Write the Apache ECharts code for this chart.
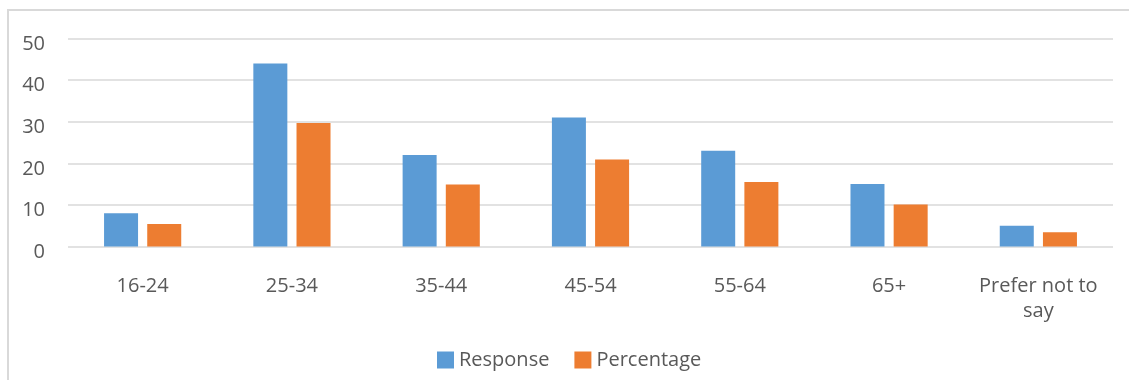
<!DOCTYPE html>
<html>
<head>
<meta charset="utf-8">
<script src="https://cdn.jsdelivr.net/npm/echarts@6/dist/echarts.min.js"></script>
<style>
  html, body { margin: 0; padding: 0; background: #ffffff; }
  #chart { width: 1129px; height: 380px; }
</style>
</head>
<body>
<div id="chart"></div>
<script>
// Age groups of respondents
const categories = ['16-24', '25-34', '35-44', '45-54', '55-64', '65+', 'Prefer not to\nsay'];
// Number of responses per age group
const response = [8, 44, 22, 31, 23, 15, 5];
// Share of all responses, in percent
const percentage = [5.4, 29.7, 14.9, 20.9, 15.5, 10.1, 3.4];
// Value axis range and step
const yMin = 0;
const yMax = 50;
const yStep = 10;

const textColor = '#595959';
const fontFamily = '"Open Sans", "Noto Sans", sans-serif';

const chart = echarts.init(document.getElementById('chart'), null, { renderer: 'canvas' });

chart.setOption({
  animation: false,
  backgroundColor: '#ffffff',
  textStyle: { fontFamily: fontFamily, color: textColor },
  graphic: [{
    type: 'rect',
    shape: { x: 8, y: 10, width: 1300, height: 500 },
    style: { fill: 'none', stroke: '#d9d9d9', lineWidth: 2 },
    silent: true,
    z: -1
  }],
  grid: { left: 68, right: 16, top: 38.5, bottom: 133.5, containLabel: false },
  legend: {
    left: 432,
    top: 345,
    icon: 'rect',
    itemWidth: 17,
    itemHeight: 17,
    itemGap: 25,
    textStyle: { fontFamily: fontFamily, fontSize: 20, color: textColor },
    data: ['Response', 'Percentage']
  },
  xAxis: {
    type: 'category',
    data: categories,
    axisLine: { show: false },
    axisTick: { show: false },
    axisLabel: {
      interval: 0,
      margin: 27,
      fontFamily: fontFamily,
      fontSize: 20,
      lineHeight: 25,
      color: textColor
    }
  },
  yAxis: {
    type: 'value',
    min: yMin,
    max: yMax,
    interval: yStep,
    axisLine: { show: false },
    axisTick: { show: false },
    axisLabel: {
      margin: 23,
      fontFamily: fontFamily,
      fontSize: 20,
      color: textColor,
      verticalAlign: 'top',
      lineHeight: 11
    },
    splitLine: { lineStyle: { color: '#d9d9d9', width: 1.5 } }
  },
  series: [
    {
      name: 'Response',
      type: 'bar',
      data: response,
      barWidth: 34,
      barGap: '27%',
      itemStyle: { color: '#5b9bd5' }
    },
    {
      name: 'Percentage',
      type: 'bar',
      data: percentage,
      barWidth: 34,
      barGap: '27%',
      itemStyle: { color: '#ed7d31' }
    }
  ]
});
</script>
</body>
</html>
